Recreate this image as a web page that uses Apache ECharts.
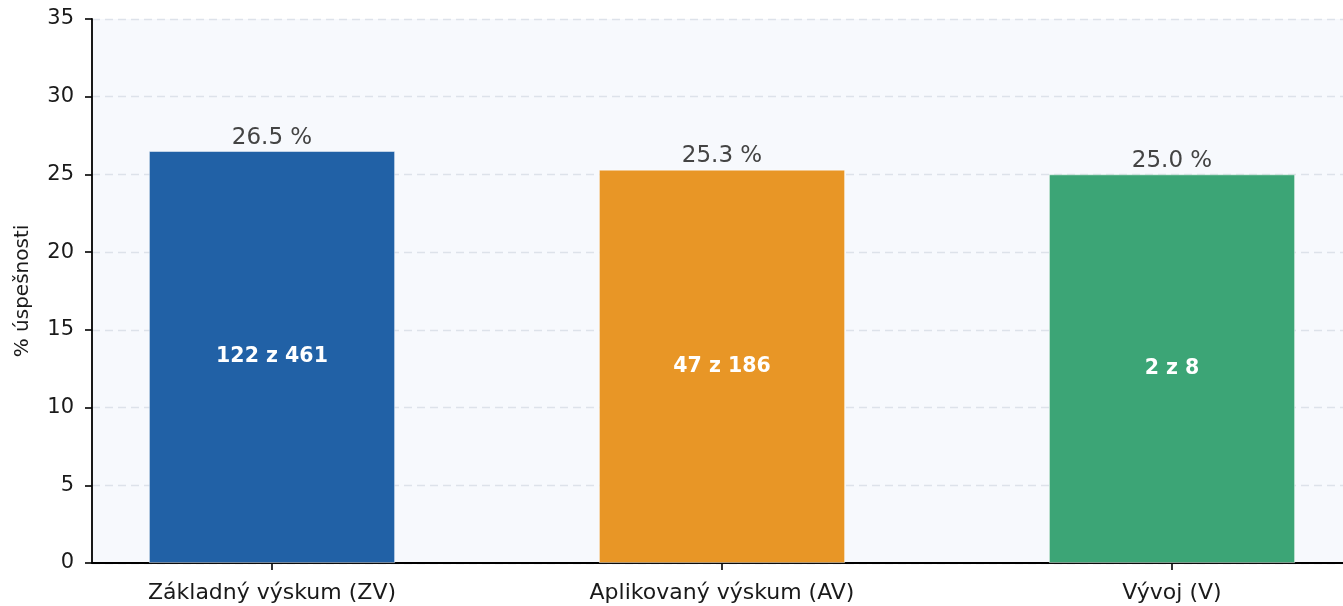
<!DOCTYPE html>
<html>
<head>
<meta charset="utf-8">
<script src="https://cdn.jsdelivr.net/npm/echarts@6/dist/echarts.min.js"></script>
<style>
  html, body { margin: 0; padding: 0; background: #fff; }
  #chart { width: 1343px; height: 606px; }
</style>
</head>
<body>
<div id="chart"></div>
<script>
// údaje z grafu
var categories = ["Základný výskum (ZV)", "Aplikovaný výskum (AV)", "Vývoj (V)"];
var rates = [26.5, 25.3, 25.0];
var successes = [122, 47, 2];
var totals = [461, 186, 8];
var colors = ["#2161a6", "#e89626", "#3ca576"];

var positions = categories.map(function (c, i) { return i; });

var font = "DejaVu Sans";
var myChart = echarts.init(document.getElementById("chart"));

myChart.setOption({
    animation: false,
    textStyle: { fontFamily: font },
    grid: {
        left: 92,
        right: 0,
        top: 19,
        bottom: 43,
        containLabel: false,
        outerBoundsMode: "none",
        show: true,
        backgroundColor: "#f7f9fd",
        borderWidth: 0
    },
    xAxis: {
        type: "value",
        min: -0.4,
        max: 2.38,
        splitLine: { show: false },
        axisLine: { show: true, onZero: false, lineStyle: { color: "#000", width: 1.8 } },
        axisTick: { show: true, customValues: positions, length: 7, lineStyle: { color: "#000", width: 1.6 } },
        axisLabel: {
            customValues: positions,
            margin: 19,
            fontSize: 22,
            color: "#1a1a1a",
            formatter: function (v) { return categories[Math.round(v)]; }
        }
    },
    yAxis: {
        type: "value",
        min: 0,
        max: 35,
        interval: 5,
        name: "% úspešnosti",
        nameLocation: "middle",
        nameGap: 59,
        nameTextStyle: { fontSize: 20, color: "#1a1a1a" },
        axisLine: { show: true, onZero: false, lineStyle: { color: "#000", width: 1.8 } },
        axisTick: { show: true, length: 7, lineStyle: { color: "#000", width: 1.6 } },
        axisLabel: { margin: 18, fontSize: 21, color: "#1a1a1a" },
        splitLine: { show: true, lineStyle: { color: "#dde2ea", type: [8, 5], width: 1.3 } }
    },
    series: [{
        type: "bar",
        barWidth: 246,
        data: rates.map(function (r, i) {
            return {
                value: [i, r],
                itemStyle: { color: colors[i], borderColor: "rgba(255,255,255,0.6)", borderWidth: 0.8 }
            };
        }),
        label: {
            show: true,
            position: "inside",
            fontSize: 20.5,
            fontWeight: "bold",
            color: "#fff",
            formatter: function (p) { return successes[p.dataIndex] + " z " + totals[p.dataIndex]; }
        },
        z: 3
    }, {
        type: "bar",
        barWidth: 246,
        barGap: "-100%",
        data: rates.map(function (r, i) { return [i, r]; }),
        itemStyle: { color: "rgba(0,0,0,0)" },
        label: {
            show: true,
            position: "top",
            distance: 2,
            fontSize: 23,
            color: "#444",
            formatter: function (p) { return rates[p.dataIndex].toFixed(1) + " %"; }
        },
        z: 4
    }]
});
</script>
</body>
</html>
